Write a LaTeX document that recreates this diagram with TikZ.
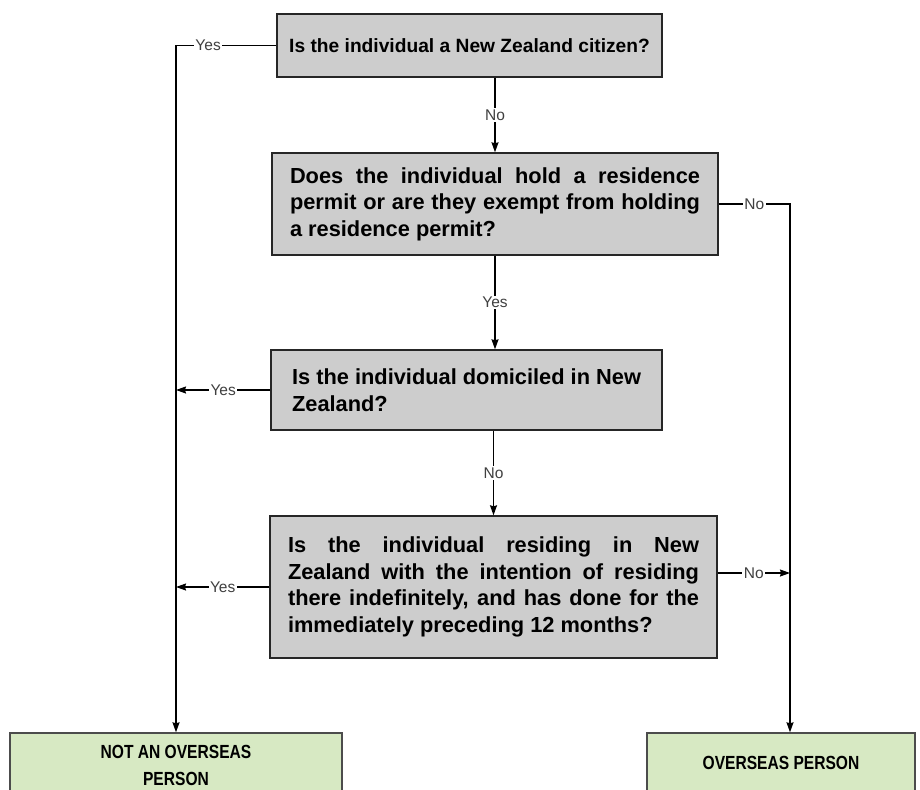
\documentclass[tikz,border=0pt]{standalone}
\usepackage{fontspec}
\setmainfont{Liberation Sans}
\newfontfamily\narrowfont{Liberation Sans}[FakeStretch=0.82]
\usetikzlibrary{arrows.meta}
\definecolor{qgrey}{HTML}{CDCDCD}
\definecolor{endgreen}{HTML}{D7E9C3}
\definecolor{lblgrey}{HTML}{404040}
\tikzset{
  question/.style={draw=black!85, line width=1.4pt, fill=qgrey, inner ysep=0pt,
    font=\bfseries\fontsize{21.8}{26.5}\selectfont},
  outcome/.style={draw=black!70, line width=1.4pt, fill=endgreen, align=center,
    font=\narrowfont\bfseries\fontsize{19}{27}\selectfont},
  link/.style={line width=1.3pt, black},
  arr/.style={link, -{Stealth[length=10pt,width=7pt,inset=1pt]}},
  lbl/.style={fill=white, inner sep=1.5pt, text=lblgrey, font=\fontsize{15.5}{17}\selectfont}
}
\begin{document}
\begin{tikzpicture}[x=1pt,y=-1pt]
  \useasboundingbox (0,0) rectangle (920,789);
  \node (q1) at (469.5,45.5) [question, minimum width=385pt, minimum height=63pt,
    font=\bfseries\fontsize{19.2}{23}\selectfont] {Is the individual a New Zealand citizen?};
  \node (q2) at (495,204) [question, text width=410pt, inner xsep=18pt, minimum height=102pt,
    align=justify] {Does the individual hold a residence\linebreak permit or are they exempt from holding\linebreak a residence permit?};
  \node (q3) at (466.5,390) [question, minimum width=391pt, minimum height=80pt,
    align=left] {Is the individual domiciled in New\\Zealand?};
  \node (q4) at (493.5,587) [question, text width=411pt, inner xsep=18pt, minimum height=142pt,
    align=justify] {Is the individual residing in New\linebreak Zealand with the intention of residing\linebreak there indefinitely, and has done for the\linebreak immediately preceding 12 months?};
  \node (nop) at (176,765) [outcome, minimum width=332pt, minimum height=64pt] {NOT AN OVERSEAS\\PERSON};
  \node (op) at (781,763) [outcome, minimum width=268pt, minimum height=60pt] {OVERSEAS PERSON};

  \coordinate (lx) at (176,0);
  \coordinate (rx) at (790,0);

  \draw[arr] (q1.west) -- node[lbl, pos=0.68] {Yes} (q1.west -| lx) -- (lx |- nop.north);
  \draw[arr] (q2.north |- q1.south) -- node[lbl] {No} (q2.north);
  \draw[arr] (q2.east) -- node[lbl] {No} (q2.east -| rx) -- (rx |- op.north);
  \draw[arr] (q2.south) -- node[lbl] {Yes} (q2.south |- q3.north);
  \draw[arr] (q3.west) -- node[lbl] {Yes} (q3.west -| lx);
  \draw[arr] (q4.north |- q3.south) -- node[lbl] {No} (q4.north);
  \draw[arr] (q4.west) -- node[lbl] {Yes} (q4.west -| lx);
  \draw[arr] ([yshift=14pt]q4.east) -- node[lbl] {No} ([yshift=14pt]q4.east -| rx);
\end{tikzpicture}
\end{document}
